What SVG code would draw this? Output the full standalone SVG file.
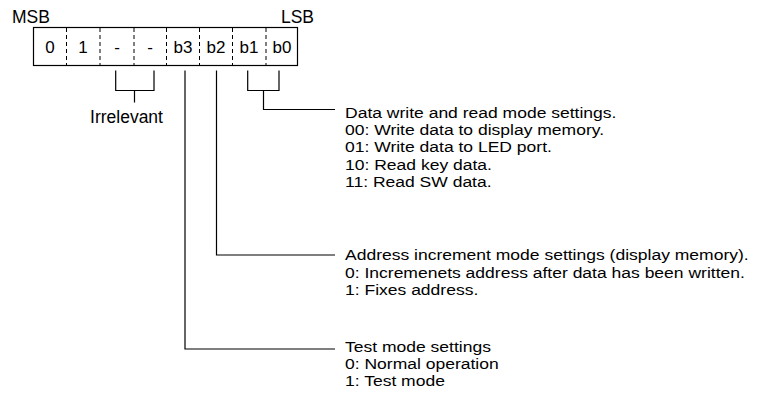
<svg xmlns="http://www.w3.org/2000/svg" width="758" height="400" viewBox="0 0 758 400">
<style>
text{font-family:"Liberation Sans",Arial,sans-serif;fill:#000}
.lbl{font-size:17.5px}
.desc{font-size:15px}
.cell{font-size:17px;text-anchor:middle}
.ln{fill:none;stroke:#000;stroke-width:1.2}
.dash{stroke:#000;stroke-width:1;stroke-dasharray:4,3}
</style>
<rect width="758" height="400" fill="#fff"/>
<g id="register">
<text class="lbl" x="12" y="23">MSB</text>
<text class="lbl" x="314" y="23" text-anchor="end">LSB</text>
<rect x="33.5" y="27.5" width="264" height="38" fill="#fff" stroke="#000" stroke-width="1.2"/>
<line class="dash" x1="66.5" y1="28" x2="66.5" y2="65"/>
<line class="dash" x1="100" y1="28" x2="100" y2="65"/>
<line class="dash" x1="134" y1="28" x2="134" y2="65"/>
<line class="dash" x1="166.5" y1="28" x2="166.5" y2="65"/>
<line class="dash" x1="199.5" y1="28" x2="199.5" y2="65"/>
<line class="dash" x1="232.5" y1="28" x2="232.5" y2="65"/>
<line class="dash" x1="266" y1="28" x2="266" y2="65"/>
<text class="cell" x="50" y="52.5">0</text>
<text class="cell" x="83" y="52.5">1</text>
<text class="cell" x="117" y="52.5">-</text>
<text class="cell" x="150" y="52.5">-</text>
<text class="cell" x="183" y="52.5">b3</text>
<text class="cell" x="216" y="52.5">b2</text>
<text class="cell" x="249" y="52.5">b1</text>
<text class="cell" x="282" y="52.5">b0</text>
</g>
<g id="connectors">
<path class="ln" d="M115.7,70.5 V90.5 H154 V70.5 M134.5,90.5 V102.5"/>
<path class="ln" d="M247.7,70.5 V90.5 H279 V70.5 M263.5,90.5 V109.5 H335"/>
<path class="ln" d="M216.5,70.5 V255 H335"/>
<path class="ln" d="M185,70.5 V349 H335"/>
</g>
<g id="irrelevant">
<text class="lbl" x="126.5" y="123" text-anchor="middle">Irrelevant</text>
</g>
<g id="data-mode" class="desc" transform="matrix(1.167,0,0,1,-57.6,0)">
<text class="desc" x="345" y="117.7">Data write and read mode settings.</text>
<text class="desc" x="345" y="135">00: Write data to display memory.</text>
<text class="desc" x="345" y="152.3">01: Write data to LED port.</text>
<text class="desc" x="345" y="169.6">10: Read key data.</text>
<text class="desc" x="345" y="186.9">11: Read SW data.</text>
</g>
<g id="address-mode" transform="matrix(1.167,0,0,1,-57.6,0)">
<text class="desc" x="345" y="260.3">Address increment mode settings (display memory).</text>
<text class="desc" x="345" y="277.6">0: Incremenets address after data has been written.</text>
<text class="desc" x="345" y="294.9">1: Fixes address.</text>
</g>
<g id="test-mode" transform="matrix(1.167,0,0,1,-57.6,0)">
<text class="desc" x="345" y="351.8">Test mode settings</text>
<text class="desc" x="345" y="369.1">0: Normal operation</text>
<text class="desc" x="345" y="386.4">1: Test mode</text>
</g>
</svg>
